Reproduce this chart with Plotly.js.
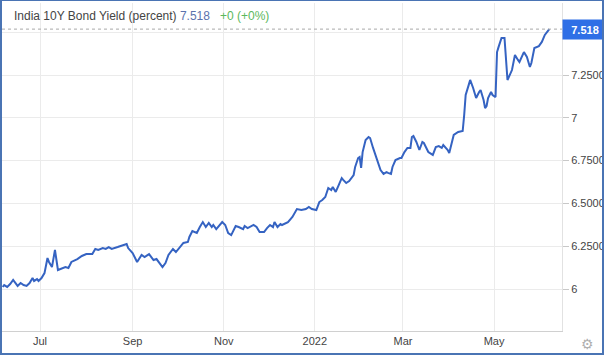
<!DOCTYPE html>
<html><head><meta charset="utf-8">
<script src="https://cdn.plot.ly/plotly-3.0.1.min.js"></script>
<style>
html,body{margin:0;padding:0;background:#fff;}
#wrap{position:relative;width:604px;height:355px;overflow:hidden;}
#chart{position:absolute;left:0;top:0;width:604px;height:355px;}
#frame{position:absolute;left:0;top:0;width:604px;height:355px;box-sizing:border-box;border:2px solid #4a74b4;border-top-width:1px;pointer-events:none;}
</style></head>
<body><div id="wrap"><div id="chart"></div><div id="frame"></div></div>
<script>
const dates = ["2021-06-06","2021-06-07","2021-06-09","2021-06-11","2021-06-13","2021-06-16","2021-06-18","2021-06-20","2021-06-22","2021-06-24","2021-06-26","2021-06-27","2021-06-29","2021-06-30",
"2021-07-02","2021-07-04","2021-07-06","2021-07-07","2021-07-09","2021-07-11","2021-07-13","2021-07-16","2021-07-18","2021-07-20","2021-07-22","2021-07-26","2021-07-29",
"2021-08-01","2021-08-05","2021-08-07","2021-08-09","2021-08-12","2021-08-14","2021-08-16","2021-08-18","2021-08-22","2021-08-24","2021-08-26","2021-08-28","2021-08-29",
"2021-09-01","2021-09-04","2021-09-07","2021-09-09","2021-09-12","2021-09-15","2021-09-17","2021-09-21","2021-09-23","2021-09-25","2021-09-28","2021-09-30",
"2021-10-03","2021-10-05","2021-10-08","2021-10-09","2021-10-11","2021-10-14","2021-10-16","2021-10-18","2021-10-20","2021-10-22","2021-10-24","2021-10-25","2021-10-27","2021-10-29","2021-10-31",
"2021-11-02","2021-11-04","2021-11-06","2021-11-09","2021-11-11","2021-11-14","2021-11-15","2021-11-17","2021-11-21","2021-11-23","2021-11-25","2021-11-28","2021-11-30",
"2021-12-02","2021-12-04","2021-12-05","2021-12-07","2021-12-09","2021-12-10","2021-12-14","2021-12-17","2021-12-20","2021-12-23","2021-12-26","2021-12-28","2021-12-30",
"2022-01-02","2022-01-04","2022-01-06","2022-01-08","2022-01-10","2022-01-12","2022-01-13","2022-01-15","2022-01-17","2022-01-19","2022-01-20","2022-01-22","2022-01-24","2022-01-27","2022-01-28","2022-01-30","2022-01-31",
"2022-02-01","2022-02-02","2022-02-04","2022-02-06","2022-02-07","2022-02-09","2022-02-10","2022-02-12","2022-02-14","2022-02-16","2022-02-18","2022-02-19","2022-02-21","2022-02-22","2022-02-24","2022-02-27","2022-02-28",
"2022-03-02","2022-03-04","2022-03-06","2022-03-07","2022-03-08","2022-03-10","2022-03-12","2022-03-14","2022-03-15","2022-03-18","2022-03-21","2022-03-23","2022-03-25","2022-03-27","2022-03-28","2022-03-31",
"2022-04-01","2022-04-03","2022-04-04","2022-04-07","2022-04-10","2022-04-11","2022-04-12","2022-04-14","2022-04-15","2022-04-17","2022-04-18","2022-04-19","2022-04-21","2022-04-22","2022-04-24","2022-04-25","2022-04-26","2022-04-27","2022-04-29","2022-04-30",
"2022-05-02","2022-05-03","2022-05-04","2022-05-06","2022-05-08","2022-05-09","2022-05-10","2022-05-13","2022-05-15","2022-05-17","2022-05-18","2022-05-21","2022-05-23","2022-05-25","2022-05-26","2022-05-28","2022-05-31",
"2022-06-02","2022-06-04","2022-06-07"];
const yields = [6.012,6.023,6.012,6.029,6.053,6.018,6.035,6.023,6.018,6.035,6.064,6.047,6.058,6.047,
6.064,6.093,6.181,6.158,6.128,6.228,6.111,6.123,6.128,6.123,6.158,6.175,6.193,
6.204,6.204,6.234,6.228,6.239,6.234,6.245,6.234,6.245,6.251,6.257,6.263,6.239,
6.210,6.158,6.199,6.187,6.204,6.169,6.175,6.128,6.152,6.199,6.234,6.216,
6.251,6.269,6.275,6.304,6.339,6.327,6.362,6.391,6.362,6.386,6.362,6.374,6.350,6.374,6.391,
6.374,6.327,6.315,6.368,6.362,6.350,6.368,6.356,6.374,6.362,6.333,6.333,6.356,
6.374,6.362,6.391,6.362,6.380,6.374,6.391,6.421,6.467,6.461,6.467,6.479,6.467,
6.461,6.508,6.520,6.537,6.590,6.578,6.596,6.567,6.607,6.648,6.637,6.619,6.631,6.666,6.713,6.765,6.771,
6.707,6.800,6.870,6.888,6.882,6.824,6.800,6.742,6.695,6.672,6.683,6.678,6.672,6.713,6.753,6.765,6.765,
6.800,6.824,6.824,6.888,6.894,6.859,6.812,6.859,6.853,6.800,6.783,6.829,6.835,6.824,6.841,6.812,
6.794,6.859,6.900,6.917,6.923,7.016,7.133,7.191,7.221,7.174,7.151,7.116,7.151,7.162,7.104,7.057,7.069,7.116,7.151,7.133,
7.121,7.384,7.413,7.466,7.466,7.320,7.221,7.279,7.367,7.338,7.326,7.384,7.355,7.297,7.320,7.408,7.419,
7.443,7.484,7.518];
const tickVals = [6,6.25,6.5,6.75,7,7.25,7.5];
const tickText = ["6","6.2500","6.5000","6.7500","7","7.2500",""];
const xTickVals = ["2021-07-01","2021-09-01","2021-11-01","2022-01-01","2022-03-01","2022-05-01"];
const xTickText = ["Jul","Sep","Nov","2022","Mar","May"];
const lastValue = 7.518;
const seriesName = "India 10Y Bond Yield (percent)";

const trace = {x: dates, y: yields, type: "scatter", mode: "lines",
  line: {color: "#3563c2", width: 2}, hoverinfo: "x+y"};

const layout = {
  width: 604, height: 355,
  margin: {l: 2, r: 42, t: 3, b: 24},
  paper_bgcolor: "#fff", plot_bgcolor: "#fff",
  font: {family: "Liberation Sans, Arial, sans-serif", size: 11, color: "#333"},
  showlegend: false,
  xaxis: {type: "date", range: ["2021-06-05 13:00", "2022-06-15 12:00"],
    tickvals: xTickVals, ticktext: xTickText, showgrid: true, gridcolor: "#ebebeb", gridwidth: 1,
    showline: true, linecolor: "#d0d0d0", linewidth: 1, ticks: "", zeroline: false,
    tickfont: {size: 11, color: "#444"}, fixedrange: true},
  yaxis: {side: "right", range: [5.7547, 7.6706], tickvals: tickVals, ticktext: tickText,
    showgrid: true, gridcolor: "#ebebeb", gridwidth: 1, zeroline: false,
    showline: true, linecolor: "#e2e2e2", linewidth: 1, mirror: false,
    ticks: "outside", ticklen: 6, tickcolor: "#c8c8c8", tickfont: {size: 11, color: "#444"}, fixedrange: true},
  shapes: [
    {type: "rect", xref: "paper", yref: "y", x0: 0, x1: 0.48, y0: lastValue, y1: 7.6706,
      fillcolor: "#fff", line: {width: 0}, layer: "between"},
    {type: "line", xref: "paper", yref: "y", x0: 0, x1: 1, y0: lastValue, y1: lastValue,
      line: {color: "#a8a8a8", width: 1, dash: "dot"}}
  ],
  annotations: [
    {xref: "paper", yref: "paper", x: 0.018, y: 1.0, xanchor: "left", yanchor: "top", yshift: -4,
      showarrow: false, align: "left",
      text: seriesName + ' <span style="color:#5b72ad">' + lastValue.toFixed(3) + '</span>   <span style="color:#5cb85c">+0 (+0%)</span>',
      font: {size: 12, color: "#444"}},
    {xref: "paper", yref: "y", x: 1, y: lastValue, xanchor: "left", yanchor: "middle",
      showarrow: false, text: "<b>" + lastValue.toFixed(3) + "</b>", bgcolor: "#2f6fe6",
      font: {size: 11, color: "#fff"}, borderpad: 2, width: 40, height: 15, align: "center"},
    {xref: "paper", yref: "paper", x: 1.046, y: 0, xanchor: "center", yanchor: "top", yshift: -3,
      showarrow: false, text: "\u2699", font: {size: 14, color: "#b0b0b0", family: "DejaVu Sans"}}
  ]
};
Plotly.newPlot("chart", [trace], layout, {displayModeBar: false, staticPlot: true});
</script></body></html>
